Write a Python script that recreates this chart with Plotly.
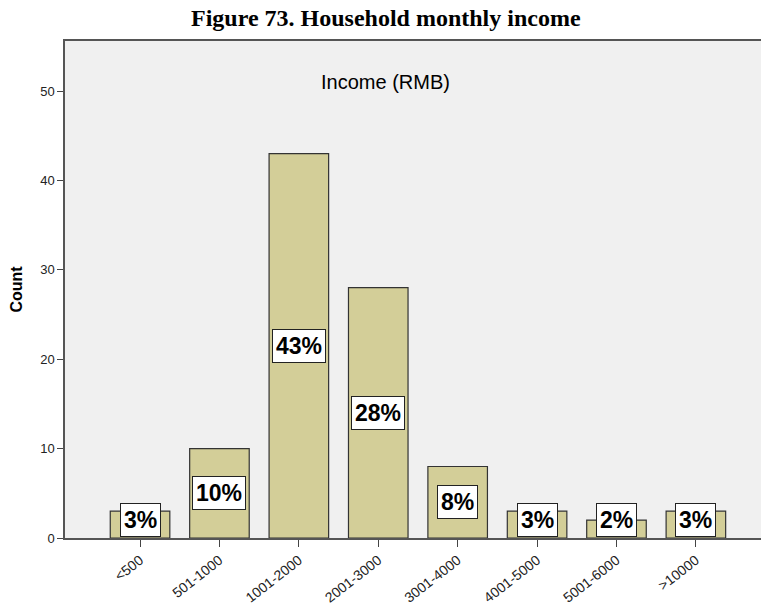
import plotly.graph_objects as go

categories = ["<500", "501-1000", "1001-2000", "2001-3000", "3001-4000", "4001-5000", "5001-6000", ">10000"]
counts = [3, 10, 43, 28, 8, 3, 2, 3]
pct_labels = ["3%", "10%", "43%", "28%", "8%", "3%", "2%", "3%"]
y_ticks = [0, 10, 20, 30, 40, 50]

L, T, B, W, H = 65, 41, 538, 761, 605

fig = go.Figure()
fig.add_trace(go.Bar(
    x=list(range(len(categories))), y=counts, width=0.75,
    marker=dict(color="#d3ce98", line=dict(color="#333333", width=1.2)),
    hoverinfo="skip",
))

for i, (v, lab) in enumerate(zip(counts, pct_labels)):
    fig.add_annotation(
        x=i, y=max(v / 2, 2.0), text="<b>" + lab + "</b>", showarrow=False,
        font=dict(family="Liberation Sans, Arial", size=23, color="black"),
        bgcolor="white", bordercolor="#222222", borderwidth=1, borderpad=3,
        xref="x", yref="y",
    )

fig.add_annotation(
    x=(385 - L) / (W - L), y=1 - (82 - T) / (B - T), xref="paper", yref="paper",
    xanchor="center", yanchor="middle",
    text="Income (RMB)", showarrow=False,
    font=dict(family="Liberation Sans, Arial", size=20, color="black"),
)
fig.add_annotation(
    x=(386 - L) / (W - L), y=1 + (T - 18) / (B - T), xref="paper", yref="paper",
    xanchor="center", yanchor="middle",
    text="<b>Figure 73. Household monthly income</b>", showarrow=False,
    font=dict(family="Liberation Serif, Times New Roman", size=24, color="black"),
)

fig.update_layout(
    width=W, height=H,
    margin=dict(l=L, r=0, t=T, b=H - B, autoexpand=False),
    paper_bgcolor="white", plot_bgcolor="#f0f0f0",
    showlegend=False, bargap=0.25,
    font=dict(family="Liberation Sans, Arial", size=12, color="#222222"),
)
fig.update_xaxes(
    range=[-0.945, 7.82], tickmode="array", tickvals=list(range(len(categories))),
    ticktext=categories, tickangle=-38, ticks="outside", ticklen=7, tickcolor="#444444",
    showline=True, linecolor="#555555", linewidth=1.5, mirror=True, showgrid=False,
    zeroline=False, tickfont=dict(size=14, color="#222222"), automargin=False,
)
fig.update_yaxes(
    range=[0, 55.6], tickmode="array", tickvals=y_ticks, ticks="outside", ticklen=6,
    tickcolor="#444444", showline=True, linecolor="#555555", linewidth=1.5,
    showgrid=False, zeroline=False, tickfont=dict(size=13, color="#222222"),
    title=dict(text="<b>Count</b>", font=dict(size=16, color="black"), standoff=14),
    automargin=False,
)

fig.write_html("out.html", config={"displayModeBar": False},
               post_script="document.body.style.margin='0';")
